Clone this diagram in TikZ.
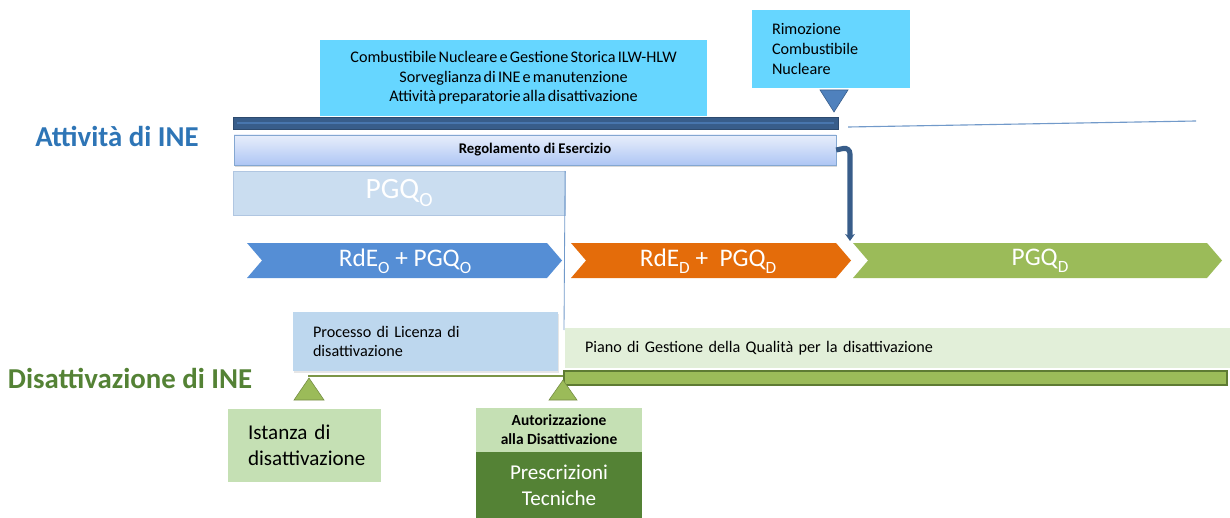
\documentclass[tikz,border=0pt]{standalone}
\usepackage{fontspec}
\setmainfont{Carlito}
\newfontfamily\stretto{Carlito}[WordSpace=0.6]
\usepackage{xcolor}
\usepackage{graphicx}
\usepackage{tikz}
\usetikzlibrary{arrows.meta,shadows}

\definecolor{cielo}{HTML}{66D6FF}
\definecolor{bluscuro}{HTML}{385D8A}
\definecolor{blumedio}{HTML}{4F81BD}
\definecolor{bluchiaro}{HTML}{CADDF0}
\definecolor{bluproc}{HTML}{BDD7EE}
\definecolor{blufreccia}{HTML}{558ED5}
\definecolor{arancio}{HTML}{E46C0A}
\definecolor{verdefreccia}{HTML}{9BBB59}
\definecolor{verdescuro}{HTML}{548235}
\definecolor{verdebordo}{HTML}{5E7B33}
\definecolor{verdechiaro}{HTML}{C5E0B4}
\definecolor{verdepiano}{HTML}{E2EFD9}
\definecolor{titoloblu}{HTML}{2E75B6}
\definecolor{regalto}{HTML}{E8EEFB}
\definecolor{regbasso}{HTML}{AEC6F4}

\newcommand{\pd}[1]{\raisebox{-0.6ex}{\scalebox{0.68}{#1}}}

\begin{document}
\begin{tikzpicture}[x=0.025cm,y=-0.025cm,
  blocco/.style={anchor=north west, inner sep=0pt, outer sep=0pt},
  testo/.style={font=\stretto\fontsize{11.5}{13.9}\selectfont},
  grande/.style={font=\fontsize{15}{18.5}\selectfont},
  freccia/.style={font=\fontsize{18}{20}\selectfont, text=white},
  titolo/.style={font=\fontsize{20.5}{24}\selectfont\bfseries}]
  \useasboundingbox (0,0) rectangle (1230,518);

  % titoli
  \node[titolo, text=titoloblu] (att) at (117,136) {Attività di INE};
  \node[titolo, text=verdescuro] (dis) at (130,378) {Disattivazione di INE};

  % attivita' di esercizio
  \node[blocco, testo, fill=cielo, minimum width=9.675cm, minimum height=1.9cm,
    align=center] (comb) at (320,40)
    {Combustibile Nucleare e Gestione Storica ILW-HLW\\
     Sorveglianza di INE e manutenzione\\
     Attività preparatorie alla disattivazione};
  \node[blocco, testo, fill=cielo, minimum height=1.95cm, text width=2.95cm,
    inner xsep=0.5cm, align=left] (rim) at (752,10)
    {Rimozione\\ Combustibile\\ Nucleare};
  \filldraw[fill=blumedio, draw=bluscuro] (820,90) -- (848,90) -- (834,112) -- cycle;
  \filldraw[fill=bluscuro, draw=bluscuro!80!black] (233,117) rectangle (838,129);
  \draw[blumedio!70!bluscuro, line width=1pt] (237,123) -- (834,123);
  \draw[blumedio!80, line width=0.8pt] (848,127) -- (1196,121);

  \node[blocco, minimum width=15.05cm, minimum height=0.75cm,
    top color=regalto, bottom color=regbasso, draw=blumedio!70,
    drop shadow={opacity=0.3, shadow xshift=0.03cm, shadow yshift=-0.04cm},
    font=\fontsize{10.5}{12}\selectfont\bfseries] (reg) at (234,135)
    {Regolamento di Esercizio};

  \node[blocco, fill=bluchiaro, draw=blumedio!45, minimum width=8.3cm,
    minimum height=1.1cm, text=white, font=\fontsize{21}{24}\selectfont] (pgqo) at (233,171)
    {PGQ\pd{O}};
  \draw[blumedio!80, line width=0.6pt] (pgqo.north east) -- (564,330);

  % frecce di fase
  \fill[blufreccia] (247,243) -- (547,243) -- (562,260.5) -- (547,278) -- (247,278) -- (262,260.5) -- cycle;
  \fill[arancio] (571,243) -- (836,243) -- (851,260.5) -- (836,278) -- (571,278) -- (586,260.5) -- cycle;
  \fill[verdefreccia] (853,243) -- (1207,243) -- (1222,260.5) -- (1207,278) -- (853,278) -- (868,260.5) -- cycle;
  \node[freccia] (rdeo) at (405,261) {RdE\pd{O} + PGQ\pd{O}};
  \node[freccia] (rded) at (708,261) {RdE\pd{D} +\ \ PGQ\pd{D}};
  \node[freccia] (pgqd) at (1040,261) {PGQ\pd{D}};
  \coordinate (snodo) at (850,241);

  \draw[bluscuro, line width=3.6pt, rounded corners=5pt, -{Stealth[length=5pt,width=7pt]}]
    (reg.east) -- (850,147) -- (snodo);

  % disattivazione
  \node[blocco, testo, fill=bluproc, minimum height=1.475cm, text width=5.625cm,
    inner xsep=0.5cm, align=left,
    drop shadow={opacity=0.2, shadow xshift=0.03cm, shadow yshift=-0.04cm}] (proc) at (293,312)
    {Processo di Licenza di\\ disattivazione};
  \draw[verdefreccia!80!black, line width=0.8pt] (308,376) -- (563,376);
  \node[blocco, testo, fill=verdepiano, minimum height=1.0cm, text width=15.625cm,
    inner xsep=0.5cm, align=left] (piano) at (565,328)
    {Piano di Gestione della Qualità per la disattivazione};
  \filldraw[fill=verdefreccia, draw=verdebordo, line width=1.6pt] (564,371) rectangle (1227,385);

  \filldraw[fill=verdefreccia, draw=verdefreccia!75!black] (294,400) -- (309,378) -- (324,400) -- cycle;
  \filldraw[fill=verdefreccia, draw=verdefreccia!75!black] (549,400) -- (563,380) -- (577,400) -- cycle;

  \node[blocco, grande, fill=verdechiaro, minimum height=1.825cm, text width=2.825cm,
    inner xsep=0.5cm, align=left] (ist) at (228,409)
    {Istanza di\\ disattivazione};
  \node[blocco, fill=verdechiaro, minimum width=4.15cm, minimum height=1.1cm,
    align=center, font=\fontsize{11}{13.5}\selectfont\bfseries] (aut) at (476,408)
    {Autorizzazione\\ alla Disattivazione};
  \node[blocco, grande, fill=verdescuro, text=white, minimum width=4.15cm,
    minimum height=1.65cm, align=center] (pre) at (476,452)
    {Prescrizioni\\ Tecniche};
\end{tikzpicture}
\end{document}
